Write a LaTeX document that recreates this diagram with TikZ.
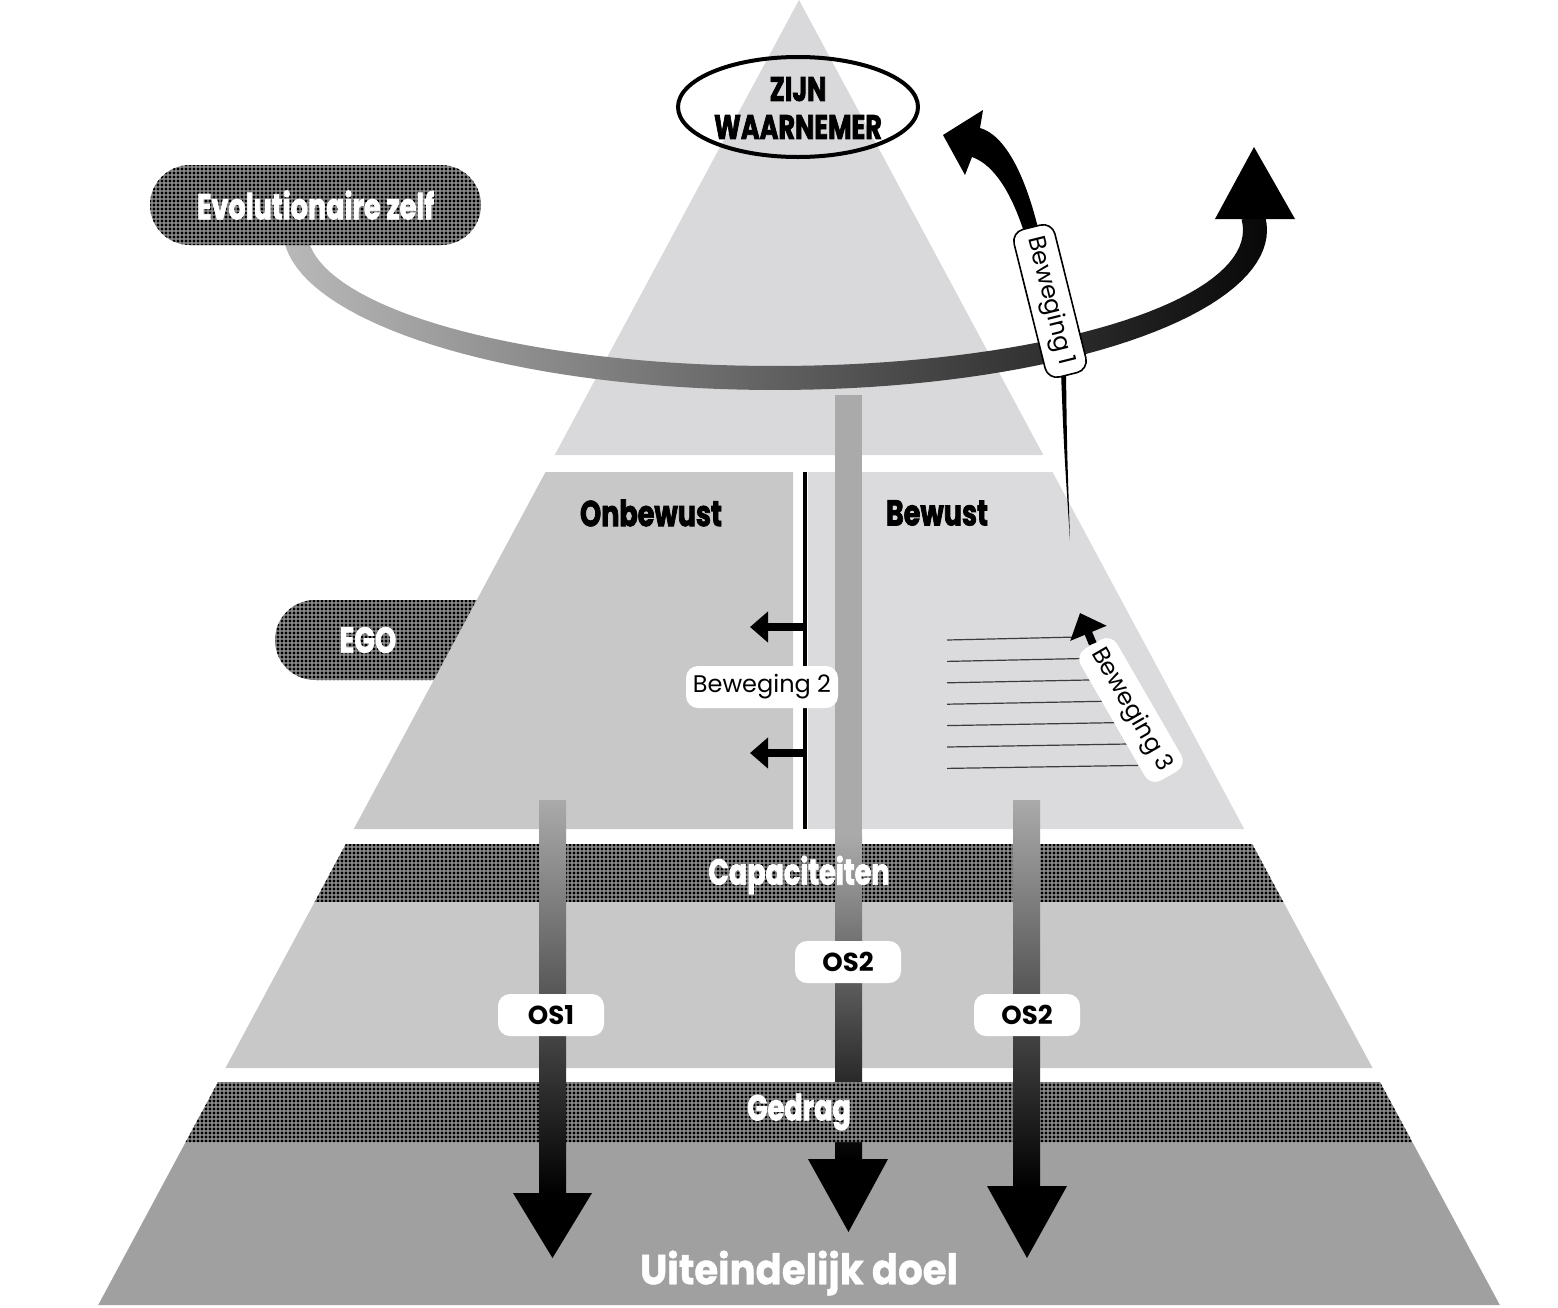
\documentclass[tikz,border=0pt]{standalone}
\usepackage{fontspec}
\setmainfont{Poppins}
\newfontfamily\headfont{Poppins}[FakeStretch=0.75,FakeBold=2]
\newfontfamily\doelfont{Poppins}[FakeStretch=0.92,FakeBold=1]
\usetikzlibrary{arrows.meta,patterns,shapes.geometric}
\pgfdeclarepatternformonly{halftone}{\pgfpoint{-0.1pt}{-0.1pt}}{\pgfpoint{2.1pt}{2.1pt}}{\pgfpoint{2pt}{2pt}}{\pgfpathcircle{\pgfpoint{1pt}{1pt}}{0.8pt}\pgfusepath{fill}}
\definecolor{topgray}{RGB}{217,216,218}
\definecolor{midgray}{RGB}{200,200,200}
\definecolor{litegray}{RGB}{219,218,220}
\definecolor{botgray}{RGB}{160,160,160}
\definecolor{bargray}{RGB}{170,170,170}
\definecolor{barmid}{RGB}{150,150,150}
\definecolor{dotbase}{RGB}{138,138,138}
\definecolor{arcleft}{RGB}{185,185,185}
\definecolor{arcmid}{RGB}{138,138,138}
\definecolor{arcright}{RGB}{8,8,8}
\definecolor{linegray}{RGB}{60,60,60}
\begin{document}
\begin{tikzpicture}[x=0.5pt,y=-0.5pt,
  dotband/.style={fill=dotbase, postaction={pattern=halftone, pattern color=black}},
  headtext/.style={font=\headfont\bfseries\fontsize{18}{20}\selectfont, inner sep=0pt},
  whitehead/.style={headtext, text=white},
  oslabel/.style={fill=white, rounded corners=6pt, minimum width=53pt, minimum height=21pt, inner sep=0pt, font=\bfseries\fontsize{13}{15}\selectfont},
  beweglabel/.style={fill=white, rounded corners=6pt, minimum width=76pt, minimum height=21pt, inner sep=0pt, font=\fontsize{12}{14}\selectfont},
  smallarrow/.style={line width=4pt, -{Triangle[length=9pt,width=15pt]}},
  bigarrowhead/.style={fill=black},
]
\useasboundingbox (0,0) rectangle (1558,1307);
\fill[white] (0,0) rectangle (1558,1307);

% EGO pill (behind the pyramid)
\path[dotband, rounded corners=20pt] (275,600) rectangle (560,680);

% pyramid layers
\fill[topgray] (799,0) -- (1043.3,455) -- (554.7,455) -- cycle;
\fill[midgray] (545.5,472) -- (793,472) -- (793,829) -- (353.8,829) -- cycle;
\fill[litegray] (808,472) -- (1052.5,472) -- (1244.2,829) -- (808,829) -- cycle;
\path[dotband] (345.8,844) -- (1252.2,844) -- (1283.4,902) -- (314.6,902) -- cycle;
\fill[midgray] (314.6,902) -- (1283.4,902) -- (1372.5,1068) -- (225.5,1068) -- cycle;
\fill[botgray] (185.7,1142) -- (1412.3,1142) -- (1499.8,1305) -- (98.2,1305) -- cycle;

% divider between Onbewust and Bewust
\coordinate (divtop) at (805,472);
\coordinate (divbot) at (805,829);
\draw[line width=2pt] (divtop) -- (divbot);

% central OS2 arrow (behind Gedrag band)
\fill[bargray] (835,395) rectangle (862,836);
\shade[top color=bargray, bottom color=black] (835,835) rectangle (862,1160);
\fill[bigarrowhead] (808,1159) -- (888,1159) -- (848.5,1232) -- cycle;

% Gedrag band
\path[dotband] (218,1082) -- (1380,1082) -- (1412.3,1142) -- (185.7,1142) -- cycle;

% OS1 arrow
\shade[top color=bargray, middle color=barmid, bottom color=black] (539,800) rectangle (566,1195);
\fill[bigarrowhead] (513,1193) -- (592,1193) -- (552.5,1258) -- cycle;
% right OS2 arrow
\shade[top color=bargray, middle color=barmid, bottom color=black] (1013,800) rectangle (1040,1188);
\fill[bigarrowhead] (987,1186) -- (1067,1186) -- (1027,1258) -- cycle;

% evolution arc
\shade[left color=arcleft, middle color=arcmid, right color=arcright]
  plot[domain=178:-4.5, samples=80, variable=\t] ({775+492*cos(\t)},{230+160*sin(\t)})
  -- plot[domain=-4.5:178, samples=80, variable=\t] ({775+468*cos(\t)},{230+136*sin(\t)}) -- cycle;
\coordinate (evotip) at (1254,147);
\fill[bigarrowhead] (1215,219) -- (1295,219) -- (evotip) -- cycle;

% Evolutionaire zelf
\node[dotband, rounded corners=20pt, minimum width=165.5pt, minimum height=40pt, whitehead] (evo) at (315.5,205) {Evolutionaire zelf};

% ZIJN WAARNEMER
\node[ellipse, draw, line width=2pt, minimum width=120pt, minimum height=50pt, inner sep=0pt] (zijnring) at (798,107) {};
\node[headtext, align=center, font=\headfont\bfseries\fontsize{17}{19}\selectfont] (zijn) at (798,108) {ZIJN\\WAARNEMER};

% Beweging 1
\coordinate (b1end) at (1070,540);
\fill (1061,372) .. controls (1064,450) .. (b1end) .. controls (1067,450) .. (1066,372) -- cycle;
\fill (1024,232) .. controls (1012,195) and (995,165) .. (972,157) -- (965,175) -- (943,135) -- (983,110) -- (980,128)
  .. controls (1005,135) and (1025,175) .. (1038,228) -- cycle;
\node[beweglabel, draw, line width=0.8pt, rotate=-76] (b1) at (1050,301) {Beweging 1};

% Bewust lines and Beweging 3
\foreach \i/\xe in {0/1078,1/1088,2/1098,3/1108,4/1118,5/1128,6/1138}{
  \draw[linegray, line width=0.6pt] (947,{640+21.4*\i}) -- (\xe,{637+21.4*\i});
}
\node[beweglabel, rotate=-60] (b3) at (1131,710) {Beweging 3};
\coordinate (b3tip) at (1080,613);
\draw[line width=4pt, -{Triangle[length=11pt,width=19pt]}] (b3.west) -- (b3tip);

% Beweging 2
\coordinate (a1) at (805,627);
\coordinate (a1tip) at (750,627);
\coordinate (a2) at (805,753);
\coordinate (a2tip) at (750,753);
\draw[smallarrow] (a1) -- (a1tip);
\draw[smallarrow] (a2) -- (a2tip);
\node[beweglabel] (b2) at (762,687) {Beweging 2};

% OS labels
\node[oslabel] (os1) at (551,1015) {OS1};
\node[oslabel] (os2c) at (848,962) {OS2};
\node[oslabel] (os2r) at (1027,1015) {OS2};

% texts
\node[whitehead] (ego) at (368,640) {EGO};
\node[headtext] (onb) at (651,513) {Onbewust};
\node[headtext] (bew) at (937,513) {Bewust};
\node[whitehead] (cap) at (799,875) {Capaciteiten};
\node[whitehead] (ged) at (799,1112) {Gedrag};
\node[inner sep=0pt, text=white, font=\doelfont\bfseries\fontsize{21}{24}\selectfont] (doel) at (799,1273) {Uiteindelijk doel};
\end{tikzpicture}
\end{document}
